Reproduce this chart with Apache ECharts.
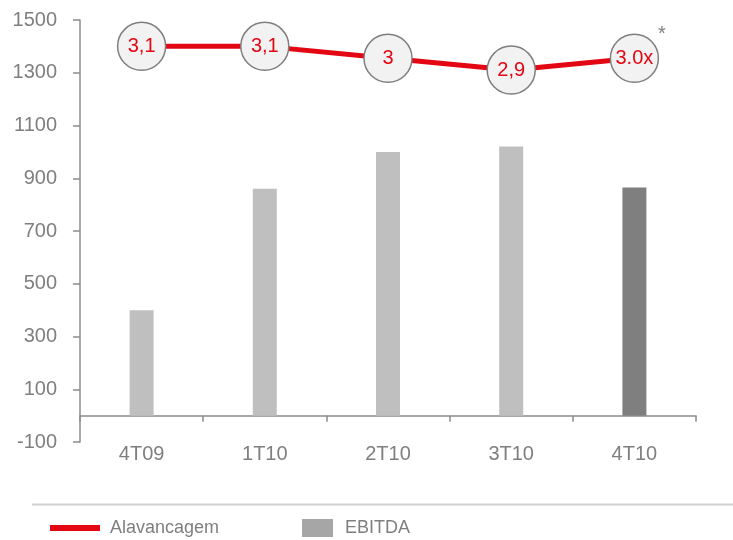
<!DOCTYPE html>
<html>
<head>
<meta charset="utf-8">
<script src="https://cdn.jsdelivr.net/npm/echarts@6/dist/echarts.min.js"></script>
<style>
  html, body { margin: 0; padding: 0; background: #fff; }
  #chart { width: 733px; height: 540px; }
</style>
</head>
<body>
<div id="chart"></div>
<script>
// quarters
const categories = ['4T09', '1T10', '2T10', '3T10', '4T10'];
// EBITDA bars
const ebitda = [400, 860, 1000, 1020, 865];
// leverage (x) and the labels shown in the bubbles
const alavancagem = [3.1, 3.1, 3.0, 2.9, 3.0];
const alavancagemLabels = ['3,1', '3,1', '3', '2,9', '3.0x'];

const gray = '#7f7f7f';
const axisGray = '#8c8c8c';
const red = '#e30613';
const regular = '"Liberation Sans", Arial, sans-serif';

const chart = echarts.init(document.getElementById('chart'));

chart.setOption({
  animation: false,
  textStyle: { fontFamily: regular },
  grid: { left: 80, right: 37, top: 20, bottom: 98 },
  legend: [
    {
      left: 50, top: 519, padding: 0,
      itemWidth: 50, itemHeight: 6, itemGap: 10,
      textStyle: { color: gray, fontSize: 18, fontFamily: regular, padding: [0, 0, 0, 5] },
      data: [{ name: 'Alavancagem', icon: 'rect', itemStyle: { color: red, borderWidth: 0 } }]
    },
    {
      left: 302, top: 519, padding: 0,
      itemWidth: 31, itemHeight: 18, itemGap: 12,
      textStyle: { color: gray, fontSize: 18, fontFamily: regular, padding: [0, 0, 0, 7] },
      data: [{ name: 'EBITDA', icon: 'rect', itemStyle: { color: '#a6a6a6', borderWidth: 0 } }]
    }
  ],
  xAxis: {
    type: 'category',
    data: categories,
    axisLine: { onZero: true, lineStyle: { color: axisGray, width: 1.5 } },
    axisTick: { show: true, length: 6, lineStyle: { color: axisGray, width: 1.5 } },
    axisLabel: { color: gray, fontSize: 20, margin: 2 }
  },
  yAxis: [
    {
      type: 'value',
      min: -100, max: 1500, interval: 200,
      axisLine: { show: true, lineStyle: { color: axisGray, width: 1.5 } },
      axisTick: { show: true, length: 7, lineStyle: { color: axisGray, width: 1.5 } },
      axisLabel: { color: gray, fontSize: 20, margin: 23, formatter: v => String(v) },
      splitLine: { show: false }
    },
    {
      // hidden scale for the leverage line
      type: 'value',
      min: -0.2333, max: 3.3222,
      show: false,
      splitLine: { show: false }
    }
  ],
  graphic: [
    {
      type: 'line',
      shape: { x1: 32, y1: 504.5, x2: 733, y2: 504.5 },
      style: { stroke: '#d0d0d0', lineWidth: 2 }
    },
    {
      type: 'text',
      left: 658, top: 24,
      style: { text: '*', fill: gray, fontSize: 20, fontFamily: regular }
    }
  ],
  series: [
    {
      name: 'EBITDA',
      type: 'bar',
      barWidth: 24,
      data: ebitda.map((v, i) => ({
        value: v,
        itemStyle: { color: i === ebitda.length - 1 ? '#7f7f7f' : '#bfbfbf' }
      }))
    },
    {
      name: 'Alavancagem',
      type: 'line',
      yAxisIndex: 1,
      data: alavancagem,
      symbol: 'circle',
      symbolSize: 48,
      lineStyle: { color: red, width: 5 },
      itemStyle: { color: '#f2f2f2', borderColor: gray, borderWidth: 1.5 },
      label: {
        show: true,
        position: 'inside',
        formatter: p => alavancagemLabels[p.dataIndex],
        color: red,
        fontSize: 20,
        fontFamily: regular
      },
      z: 5
    }
  ]
});
</script>
</body>
</html>
